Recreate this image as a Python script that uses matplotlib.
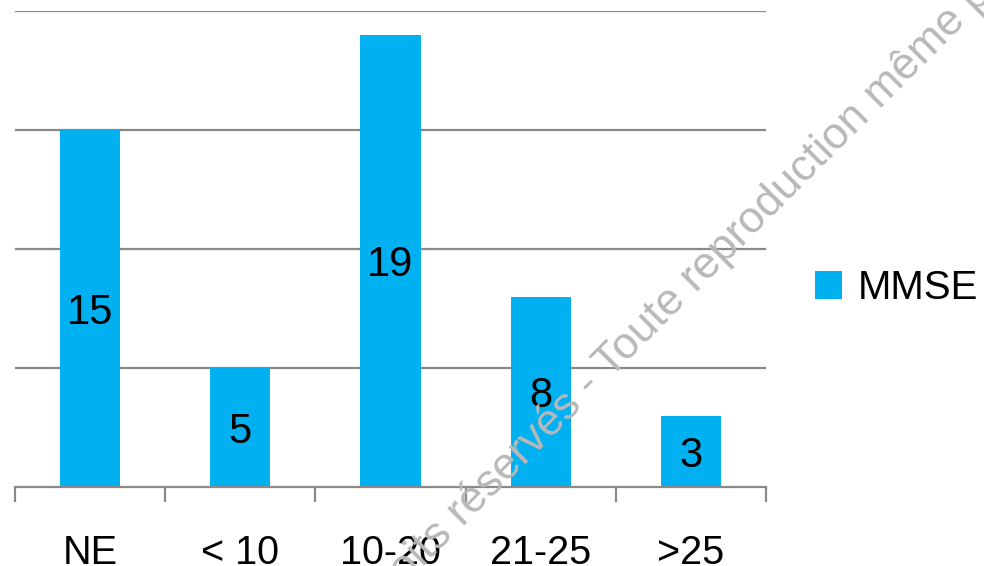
import matplotlib
matplotlib.use("Agg")
import matplotlib.pyplot as plt

categories = ["NE", "< 10", "10-20", "21-25", ">25"]
values = [15, 5, 19, 8, 3]
series_name = "MMSE"
watermark_left = "Tous droits réservés "
watermark_right = "- Toute reproduction même partielle interdite"

W, H = 984, 566
fig = plt.figure(figsize=(W / 100, H / 100), dpi=100)
ax = fig.add_axes([15 / W, 79 / H, 751 / W, 476 / H])

font = "Liberation Sans"
bar_color = "#00B0F0"
grid_color = "#898989"

x = list(range(len(categories)))
bars = ax.bar(x, values, width=0.4, color=bar_color, label=series_name, zorder=2)
labels = ax.bar_label(bars, labels=[str(v) for v in values], label_type="center",
                      fontsize=30, family=font, color="black")
for t in labels:
    t.set_va("center_baseline")

ax.set_xlim(-0.5, len(categories) - 0.5)
ax.set_ylim(0, 20)
ax.set_yticks([5, 10, 15, 20])
ax.yaxis.grid(True, color=grid_color, linewidth=1.6, zorder=0)
ax.tick_params(axis="y", left=False, labelleft=False)

for s in ["top", "right", "left"]:
    ax.spines[s].set_visible(False)
ax.spines["bottom"].set_color(grid_color)
ax.spines["bottom"].set_linewidth(1.6)
ax.spines["bottom"].set_zorder(3)

ax.set_xticks(x)
ax.set_xticklabels(categories, fontsize=28.5, family=font)
ax.tick_params(axis="x", which="major", length=0, pad=33.5)
ax.set_xticks([i - 0.5 for i in range(len(categories) + 1)], minor=True)
ax.tick_params(axis="x", which="minor", length=11, width=1.6, color=grid_color, direction="out")

leg = fig.legend(handles=[bars], labels=[series_name], loc="center left",
                 bbox_to_anchor=(815 / W, 1 - 288 / H), frameon=False,
                 prop={"family": font, "size": 29}, handlelength=0.68,
                 handleheight=0.68, handletextpad=0.37, borderpad=0,
                 borderaxespad=0)

# watermark
ox, oy = 592 / W, 1 - 398 / H
wm = dict(rotation=45, rotation_mode="anchor", va="baseline", fontsize=32,
          family=font, color="#b8b8b8", zorder=10)
fig.text(ox, oy, watermark_left, ha="right", **wm)
fig.text(ox, oy, watermark_right, ha="left", **wm)

fig.savefig("out.png", dpi=100)
